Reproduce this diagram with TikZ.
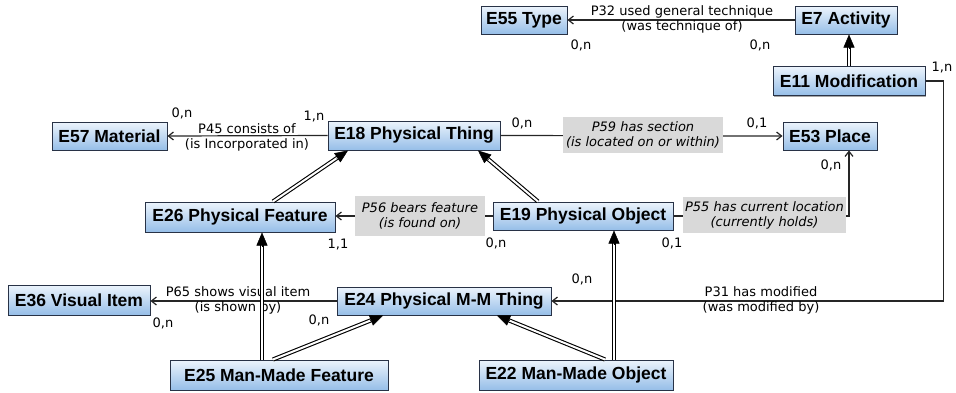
\documentclass[tikz,border=0pt]{standalone}
\usepackage{fontspec}
\newfontfamily\boxfont{Liberation Sans}
\newfontfamily\lblfont{DejaVu Sans}
\usetikzlibrary{arrows.meta,calc,shadows}
\definecolor{boxtop}{RGB}{236,244,252}
\definecolor{boxbot}{RGB}{150,190,232}
\definecolor{boxline}{RGB}{40,50,70}
\definecolor{lblgray}{RGB}{217,217,217}
\newcommand\isaline[2]{%
  \draw[isa] (#1) -- ($(#2)!10pt!(#1)$);
  \draw[isatip] ($(#2)!14pt!(#1)$) -- (#2);}
\begin{document}
\begin{tikzpicture}[x=1pt,y=-1pt,
  cls/.style={draw=boxline, line width=1pt, top color=boxtop, bottom color=boxbot,
    inner sep=0pt, minimum height=28pt, text=black,
    font=\boxfont\bfseries\fontsize{17.5}{20}\selectfont,
    drop shadow={shadow xshift=1.2pt, shadow yshift=-1.2pt, fill=black, opacity=0.35}},
  card/.style={font=\lblfont\fontsize{13}{15}\selectfont, inner sep=0pt},
  lbl/.style={font=\lblfont\fontsize{13}{15}\selectfont, align=center, inner sep=0pt},
  ilbl/.style={font=\lblfont\itshape\fontsize{13}{15}\selectfont, align=center, fill=lblgray, inner sep=0pt},
  assoc/.style={line width=1.2pt, draw=black!85, -{Straight Barb[length=5pt,width=8pt]}},
  isa/.style={line width=1.1pt, double, double distance=2pt},
  isatip/.style={-{Triangle[length=13pt,width=11pt]}, line width=0.5pt}
]
\useasboundingbox (0,0) rectangle (956,392);

% classes
\node[cls, minimum width=86pt]  (E55) at (524,20)    {E55 Type};
\node[cls, minimum width=102pt] (E7)  at (846,20)    {E7 Activity};
\node[cls, minimum width=152pt, minimum height=29pt] (E11) at (849,81) {E11 Modification};
\node[cls, minimum width=115pt] (E57) at (109.5,136) {E57 Material};
\node[cls, minimum width=172pt, minimum height=29pt] (E18) at (414,135.5) {E18 Physical Thing};
\node[cls, minimum width=94pt]  (E53) at (830,136)   {E53 Place};
\node[cls, minimum width=190pt, minimum height=30pt] (E26) at (240,217) {E26 Physical Feature};
\node[cls, minimum width=180pt] (E19) at (583,216)   {E19 Physical Object};
\node[cls, minimum width=142pt, minimum height=30pt] (E36) at (79,300) {E36 Visual Item};
\node[cls, minimum width=214pt] (E24) at (444,301)   {E24 Physical M-M Thing};
\node[cls, minimum width=218pt, minimum height=30pt] (E25) at (279,375) {E25 Man-Made Feature};
\node[cls, minimum width=194pt, minimum height=30pt] (E22) at (576,375) {E22 Man-Made Object};

% associations
\draw[assoc] (E7.west) -- (E55.east);
\node[lbl] (l32) at (682,19) {P32 used general technique\\(was technique of)};

\draw[assoc] (E18.west) -- (E57.east);
\node[lbl] (l45) at (247,137) {P45 consists of\\(is Incorporated in)};

\draw[assoc] (E18.east) -- (E53.west);
\node[ilbl, minimum width=160pt, minimum height=36pt] (l59) at (643,135) {P59 has section\\(is located on or within)};

\draw[assoc] (E19.west) -- (E19.west -| E26.east);
\node[ilbl, minimum width=130pt, minimum height=40pt] (l56) at (420,216) {P56 bears feature\\(is found on)};

\draw[assoc] (E19.east) -| ([xshift=19pt]E53.south);
\node[ilbl, minimum width=163pt, minimum height=36pt] (l55) at (764.5,215) {P55 has current location\\(currently holds)};

\draw[assoc] (E24.west) -- (E24.west -| E36.east);
\node[lbl] (l65) at (238,300) {P65 shows visual item\\(is shown by)};

\coordinate (c31) at ([xshift=18pt]E11.east);
\draw[assoc] (E11.east) -- (c31) |- (E24.east);
\node[lbl] (l31) at (761,300) {P31 has modified\\(was modified by)};

% inheritance
\coordinate (s0) at (E11.north);
\coordinate (t0) at (E11.north |- E7.south);
\isaline{s0}{t0}
\coordinate (s1) at ([xshift=33pt]E26.north);
\coordinate (t1) at ([xshift=-66pt]E18.south);
\isaline{s1}{t1}
\coordinate (s2) at ([xshift=-45pt]E19.north);
\coordinate (t2) at ([xshift=64pt]E18.south);
\isaline{s2}{t2}
\coordinate (s3) at ([xshift=-17pt]E25.north);
\coordinate (t3) at (s3 |- E26.south);
\isaline{s3}{t3}
\coordinate (s4) at ([xshift=-6pt]E25.north);
\coordinate (t4) at ([xshift=-61pt]E24.south);
\isaline{s4}{t4}
\coordinate (s5) at ([xshift=29pt]E22.north);
\coordinate (t5) at ([xshift=53pt]E24.south);
\isaline{s5}{t5}
\coordinate (s6) at ([xshift=38pt]E22.north);
\coordinate (t6) at (s6 |- E19.south);
\isaline{s6}{t6}

% cardinalities
\node[card] (k1)  at (581,45)  {0,n};
\node[card] (k2)  at (760,45)  {0,n};
\node[card] (k3)  at (942,68)  {1,n};
\node[card] (k4)  at (182,113) {0,n};
\node[card] (k5)  at (314,117) {1,n};
\node[card] (k6)  at (522,123) {0,n};
\node[card] (k7)  at (757,123) {0,1};
\node[card] (k8)  at (831,165) {0,n};
\node[card] (k9)  at (338,245) {1,1};
\node[card] (k10) at (496,243) {0,n};
\node[card] (k11) at (672,243) {0,1};
\node[card] (k12) at (163,323) {0,n};
\node[card] (k13) at (319,320) {0,n};
\node[card] (k14) at (582,279) {0,n};
\end{tikzpicture}
\end{document}
